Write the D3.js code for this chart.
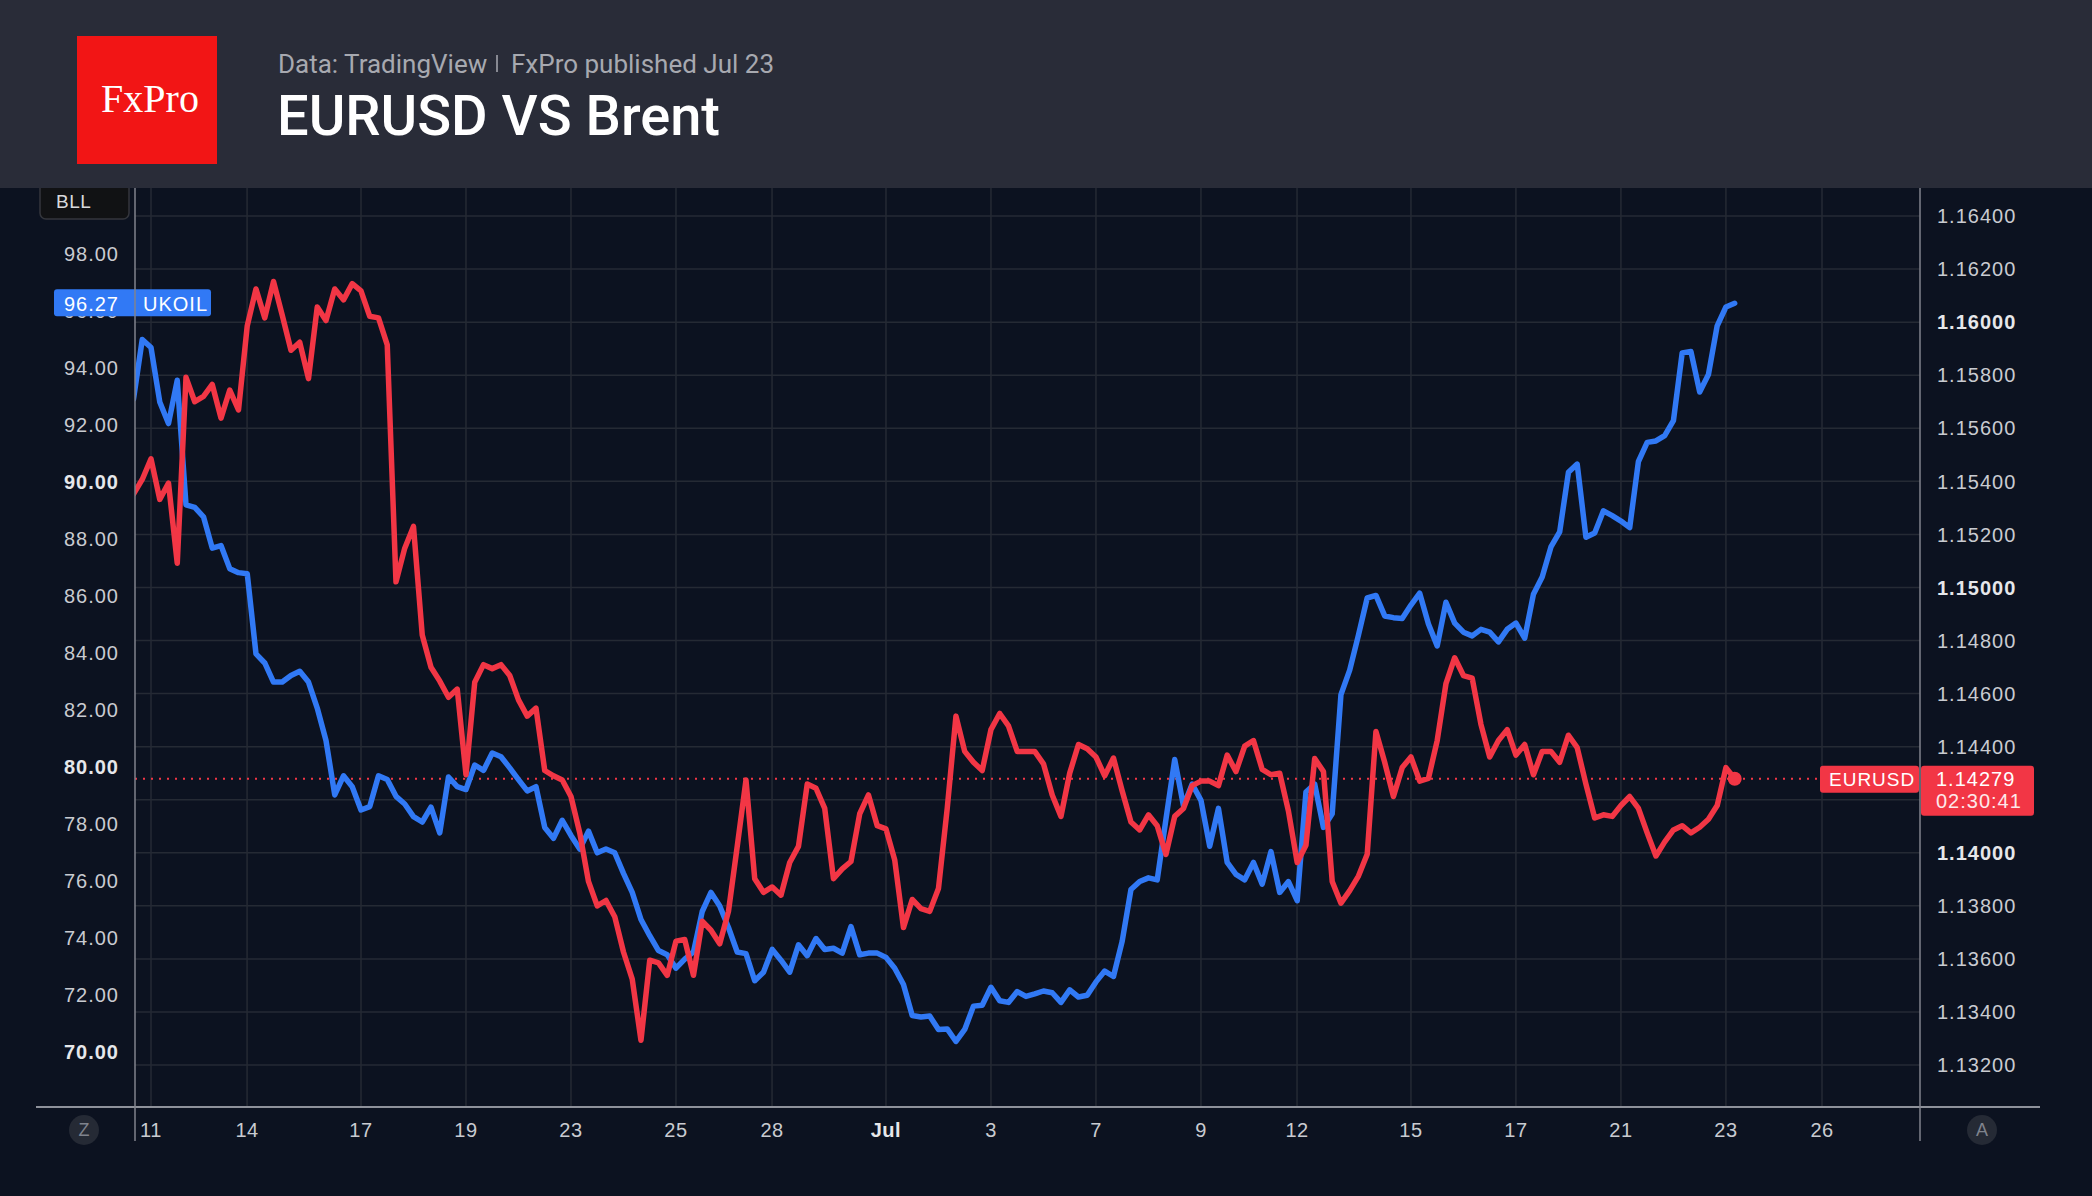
<!DOCTYPE html>
<html>
<head>
<meta charset="utf-8">
<script src="https://cdn.jsdelivr.net/npm/d3@7"></script>
<style>
  html, body { margin: 0; padding: 0; background: #0c1220; }
  svg { display: block; }
</style>
</head>
<body>
<svg id="chart" width="2092" height="1196"></svg>
<script>
// x axis: trading days since Jun 11, ticks as shown by TradingView
const tickLabels = ["11", "14", "17", "19", "23", "25", "28", "Jul", "3", "7", "9", "12", "15", "17", "21", "23", "26"];
const tickDays = [0, 1.83, 4, 6, 8, 10, 11.83, 14, 16, 18, 20, 21.83, 24, 26, 28, 30, 31.83];

// 4h bars, first bar two bars before the "11" tick
const barsPerDay = 6;
const firstBar = -2;

// UKOIL (Brent), left scale
const ukoil = [
  92.91, 95.00, 94.72, 92.81, 92.05, 93.57, 89.20, 89.11, 88.78, 87.68,
  87.77, 86.96, 86.82, 86.78, 83.97, 83.65, 82.98, 82.98, 83.21, 83.36,
  82.98, 82.07, 80.93, 79.02, 79.69, 79.31, 78.49, 78.61, 79.69, 79.56,
  78.97, 78.70, 78.26, 78.07, 78.59, 77.69, 79.65, 79.31,
  79.21, 80.07, 79.88, 80.49, 80.36, 79.97, 79.56, 79.16, 79.31, 77.88,
  77.50, 78.13, 77.60, 77.12, 77.75, 76.99, 77.12, 76.99, 76.27, 75.60,
  74.65, 74.08, 73.56, 73.41, 72.94, 73.26, 73.51, 74.93, 75.60, 75.12,
  74.37, 73.51, 73.45, 72.50, 72.80, 73.60,
  73.22, 72.80, 73.76, 73.38, 73.98, 73.60, 73.64, 73.47, 74.40, 73.41,
  73.47, 73.47, 73.32, 72.94, 72.37, 71.28, 71.23, 71.26, 70.79, 70.81,
  70.37, 70.79, 71.61, 71.64, 72.27, 71.80, 71.74, 72.12, 71.95, 72.04,
  72.14, 72.08, 71.74, 72.18, 71.93, 71.99, 72.46,
  72.84, 72.65, 73.89, 75.70, 75.98, 76.11, 76.04, 78.17, 80.26, 78.64,
  79.40, 78.83, 77.22, 78.55, 76.65, 76.23, 76.04, 76.65, 75.89, 77.03,
  75.60, 75.98, 75.31, 79.12, 79.40, 77.88, 78.36, 82.54, 83.40, 84.63,
  85.93, 86.02, 85.30, 85.24, 85.21, 85.68,
  86.10, 85.02, 84.25, 85.78, 85.05, 84.73, 84.60, 84.83, 84.73, 84.39,
  84.83, 85.05, 84.52, 86.06, 86.67, 87.72, 88.25, 90.34, 90.63, 88.06,
  88.21, 88.99, 88.82, 88.63, 88.40, 90.72, 91.39, 91.44, 91.63, 92.15,
  94.53, 94.58, 93.16, 93.77, 95.48, 96.14, 96.27
];

// EURUSD, right scale
const eurusd = [
  1.15352, 1.15407, 1.15485, 1.15332, 1.15393, 1.15091, 1.15792, 1.15700, 1.15720, 1.15765,
  1.15638, 1.15744, 1.15669, 1.15986, 1.16125, 1.16016, 1.16153, 1.16026, 1.15894, 1.15924,
  1.15787, 1.16057, 1.16006, 1.16125, 1.16084, 1.16145, 1.16118, 1.16022, 1.16016, 1.15914,
  1.15021, 1.15148, 1.15230, 1.14821, 1.14699, 1.14647, 1.14586, 1.14617,
  1.14294, 1.14643, 1.14709, 1.14694, 1.14709, 1.14668, 1.14576, 1.14515, 1.14545, 1.14310,
  1.14290, 1.14274, 1.14212, 1.14075, 1.13892, 1.13800, 1.13820, 1.13759, 1.13626, 1.13524,
  1.13293, 1.13595, 1.13585, 1.13538, 1.13667, 1.13673, 1.13538, 1.13742, 1.13708, 1.13657,
  1.13779, 1.14024, 1.14274, 1.13902, 1.13851, 1.13871,
  1.13840, 1.13963, 1.14024, 1.14259, 1.14243, 1.14167, 1.13902, 1.13939, 1.13967, 1.14147,
  1.14218, 1.14102, 1.14090, 1.13973, 1.13718, 1.13824, 1.13789, 1.13779, 1.13865, 1.14167,
  1.14515, 1.14382, 1.14341, 1.14310, 1.14464, 1.14525, 1.14478, 1.14382, 1.14382, 1.14382,
  1.14335, 1.14218, 1.14137, 1.14300, 1.14408, 1.14392, 1.14361,
  1.14290, 1.14357, 1.14233, 1.14116, 1.14086, 1.14143, 1.14102, 1.13994, 1.14137, 1.14167,
  1.14253, 1.14270, 1.14270, 1.14253, 1.14368, 1.14306, 1.14402, 1.14423, 1.14314, 1.14294,
  1.14300, 1.14157, 1.13963, 1.14028, 1.14355, 1.14306, 1.13892, 1.13810, 1.13857, 1.13912,
  1.13994, 1.14457, 1.14341, 1.14212, 1.14321, 1.14361,
  1.14270, 1.14280, 1.14423, 1.14637, 1.14735, 1.14668, 1.14658, 1.14484, 1.14361, 1.14423,
  1.14464, 1.14368, 1.14408, 1.14294, 1.14382, 1.14382, 1.14341, 1.14443, 1.14396, 1.14259,
  1.14131, 1.14143, 1.14137, 1.14178, 1.14212, 1.14167, 1.14075, 1.13988, 1.14041, 1.14086,
  1.14102, 1.14075, 1.14096, 1.14126, 1.14178, 1.14321, 1.14279
];

const leftTicks = [70, 72, 74, 76, 78, 80, 82, 84, 86, 88, 90, 92, 94, 96, 98];
const leftBold = [70, 80, 90];
const rightTicks = [1.132, 1.134, 1.136, 1.138, 1.140, 1.142, 1.144, 1.146, 1.148, 1.150, 1.152, 1.154, 1.156, 1.158, 1.160, 1.162, 1.164];
const rightBold = [1.140, 1.150, 1.160];

const ukoilLast = "96.27";
const eurusdLast = "1.14279";
const countdown = "02:30:41";

const blue = "#3179f5", red = "#f23645";
const axisFont = "'Liberation Sans', Arial, sans-serif";
const headFont = "Roboto, 'Noto Sans', sans-serif";

const W = 2092, H = 1196;
const plot = {left: 135, right: 1920, top: 188, bottom: 1107};

const svg = d3.select("#chart");

/* scales */
let x = d3.scaleLinear().domain([tickDays[0], tickDays[tickDays.length - 1]]).range([151, 1822]);
let yL = d3.scaleLinear().domain([70, 98]).range([1052, 254]);
let yR = d3.scaleLinear().domain([1.132, 1.164]).range([1065, 216]);

svg.append("rect").attr("width", W).attr("height", H).attr("fill", "#0c1220");

// BLL box (sits under the header edge)
svg.append("rect").attr("x", 40).attr("y", 176).attr("width", 89).attr("height", 43).attr("rx", 6)
    .attr("fill", "#111214").attr("stroke", "#34363c").attr("stroke-width", 1.5);
svg.append("text").attr("x", 56).attr("y", 208).text("BLL")
    .attr("font-family", axisFont).attr("font-size", 19).attr("fill", "#d8d9dd").attr("letter-spacing", 0.5);

/* header */
svg.append("rect").attr("width", W).attr("height", plot.top).attr("fill", "#292c38");
svg.append("rect").attr("x", 77).attr("y", 36).attr("width", 140).attr("height", 128).attr("fill", "#f21515");
svg.append("text").attr("x", 150).attr("y", 112).attr("text-anchor", "middle").text("FxPro")
    .attr("font-family", "'Liberation Serif', 'DejaVu Serif', serif").attr("font-size", 40).attr("fill", "#fff");

svg.append("text").attr("x", 278).attr("y", 73).text("Data: TradingView")
    .attr("font-family", headFont).attr("font-size", 26).attr("fill", "#a7a9b0");
svg.append("line").attr("x1", 497).attr("x2", 497).attr("y1", 55).attr("y2", 72)
    .attr("stroke", "#a7a9b0").attr("stroke-width", 1.5);
svg.append("text").attr("x", 511).attr("y", 73).text("FxPro published Jul 23")
    .attr("font-family", headFont).attr("font-size", 26).attr("fill", "#a7a9b0");
svg.append("text").attr("x", 277).attr("y", 135).text("EURUSD VS Brent")
    .attr("font-family", headFont).attr("font-size", 56).attr("font-weight", 500).attr("fill", "#ffffff");

/* grid */
let grid = svg.append("g");
grid.selectAll(".hg").data(rightTicks).enter().append("line")
    .attr("x1", plot.left).attr("x2", plot.right)
    .attr("y1", d => yR(d)).attr("y2", d => yR(d))
    .attr("stroke", "#252a34").attr("stroke-width", 1.5);
grid.selectAll(".vg").data(tickDays).enter().append("line")
    .attr("x1", d => x(d)).attr("x2", d => x(d))
    .attr("y1", plot.top).attr("y2", plot.bottom)
    .attr("stroke", "#252a34").attr("stroke-width", 1.5);

/* last price dotted line */
svg.append("line").attr("x1", plot.left).attr("x2", 1818)
    .attr("y1", yR(+eurusdLast)).attr("y2", yR(+eurusdLast))
    .attr("stroke", red).attr("stroke-width", 2).attr("stroke-dasharray", "2,6");

/* series */
svg.append("clipPath").attr("id", "clip").append("rect")
    .attr("x", plot.left).attr("y", plot.top)
    .attr("width", plot.right - plot.left).attr("height", plot.bottom - plot.top);

let tOf = i => (firstBar + i) / barsPerDay;
let lineL = d3.line().x((d, i) => x(tOf(i))).y(d => yL(d));
let lineR = d3.line().x((d, i) => x(tOf(i))).y(d => yR(d));

let series = svg.append("g").attr("clip-path", "url(#clip)");
series.append("path").datum(ukoil).attr("d", lineL)
    .attr("fill", "none").attr("stroke", blue).attr("stroke-width", 5.5)
    .attr("stroke-linejoin", "round").attr("stroke-linecap", "round");
series.append("path").datum(eurusd).attr("d", lineR)
    .attr("fill", "none").attr("stroke", red).attr("stroke-width", 5.5)
    .attr("stroke-linejoin", "round").attr("stroke-linecap", "round");
series.append("circle")
    .attr("cx", x(tOf(eurusd.length - 1))).attr("cy", yR(eurusd[eurusd.length - 1]))
    .attr("r", 7).attr("fill", red);

/* left axis labels */
svg.selectAll(".ly").data(leftTicks).enter().append("text")
    .attr("x", 119).attr("y", d => yL(d)).attr("dy", "0.36em").attr("text-anchor", "end")
    .text(d => d.toFixed(2))
    .attr("font-family", axisFont).attr("font-size", 20).attr("letter-spacing", 1)
    .attr("font-weight", d => leftBold.includes(d) ? "bold" : "normal")
    .attr("fill", d => leftBold.includes(d) ? "#e6e7ea" : "#c9cbd1");

/* right axis labels (the one under the price tag is hidden, as in TradingView) */
let yE = yR(+eurusdLast);
let isBold = d => rightBold.some(b => Math.abs(b - d) < 1e-9);
svg.selectAll(".ry").data(rightTicks.filter(d => Math.abs(yR(d) - (yE + 12)) > 30)).enter().append("text")
    .attr("x", 1937).attr("y", d => yR(d)).attr("dy", "0.36em")
    .text(d => d.toFixed(5))
    .attr("font-family", axisFont).attr("font-size", 20).attr("letter-spacing", 1)
    .attr("font-weight", d => isBold(d) ? "bold" : "normal")
    .attr("fill", d => isBold(d) ? "#e6e7ea" : "#c9cbd1");

/* x axis labels */
svg.selectAll(".xl").data(tickDays).enter().append("text")
    .attr("x", d => x(d)).attr("y", 1137).attr("text-anchor", "middle")
    .text((d, i) => tickLabels[i])
    .attr("font-family", axisFont).attr("font-size", 20).attr("letter-spacing", 0.5)
    .attr("font-weight", (d, i) => tickLabels[i] === "Jul" ? "bold" : "normal")
    .attr("fill", (d, i) => tickLabels[i] === "Jul" ? "#e6e7ea" : "#c9cbd1");

/* UKOIL last value tag */
let yU = yL(+ukoilLast);
svg.append("rect").attr("x", 54).attr("y", yU - 14).attr("width", 157).attr("height", 27).attr("rx", 3).attr("fill", blue);
svg.append("text").attr("x", 119).attr("y", yU).attr("dy", "0.36em").attr("text-anchor", "end").text(ukoilLast)
    .attr("font-family", axisFont).attr("font-size", 20).attr("letter-spacing", 1).attr("fill", "#fff");
svg.append("text").attr("x", 143).attr("y", yU).attr("dy", "0.36em").text("UKOIL")
    .attr("font-family", axisFont).attr("font-size", 20).attr("letter-spacing", 1).attr("fill", "#fff");

/* EURUSD last value tags */
svg.append("rect").attr("x", 1820).attr("y", yE - 13).attr("width", 99).attr("height", 27).attr("rx", 3).attr("fill", red);
svg.append("text").attr("x", 1829).attr("y", yE).attr("dy", "0.36em").text("EURUSD")
    .attr("font-family", axisFont).attr("font-size", 19).attr("letter-spacing", 1).attr("fill", "#fff");
svg.append("rect").attr("x", 1921).attr("y", yE - 13).attr("width", 113).attr("height", 50).attr("rx", 3).attr("fill", red);
svg.append("text").attr("x", 1936).attr("y", yE).attr("dy", "0.36em").text(eurusdLast)
    .attr("font-family", axisFont).attr("font-size", 20).attr("letter-spacing", 1).attr("fill", "#fff");
svg.append("text").attr("x", 1936).attr("y", yE + 22).attr("dy", "0.36em").text(countdown)
    .attr("font-family", axisFont).attr("font-size", 20).attr("letter-spacing", 1).attr("fill", "#fde8ea");

/* axis frame lines */
svg.append("line").attr("x1", 36).attr("x2", 2040).attr("y1", plot.bottom).attr("y2", plot.bottom)
    .attr("stroke", "#8e919a").attr("stroke-width", 2);
[plot.left, plot.right].forEach(function(px) {
    svg.append("line").attr("x1", px).attr("x2", px).attr("y1", plot.top).attr("y2", 1141)
        .attr("stroke", "#80838c").attr("stroke-width", 1.5);
});

/* Z / A buttons */
[[84, "Z"], [1982, "A"]].forEach(function(b) {
    svg.append("circle").attr("cx", b[0]).attr("cy", 1130).attr("r", 15).attr("fill", "#252a35");
    svg.append("text").attr("x", b[0]).attr("y", 1130).attr("dy", "0.36em").attr("text-anchor", "middle").text(b[1])
        .attr("font-family", axisFont).attr("font-size", 18).attr("fill", "#7f838d");
});
</script>
</body>
</html>
